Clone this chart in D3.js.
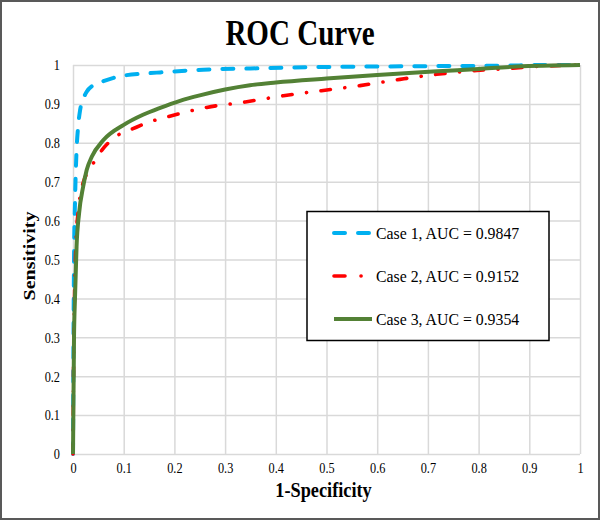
<!DOCTYPE html>
<html>
<head>
<meta charset="utf-8">
<script src="https://cdn.jsdelivr.net/npm/d3@7"></script>
<style>
  html, body { margin: 0; padding: 0; background: #fff; }
  svg { display: block; }
  text { font-family: "Liberation Serif", "Times New Roman", serif; fill: #000; }
</style>
</head>
<body>
<svg id="chart" width="600" height="520"></svg>
<script>
// ---- data ----
const xTickValues = [0, 0.1, 0.2, 0.3, 0.4, 0.5, 0.6, 0.7, 0.8, 0.9, 1];
const xTickLabels = ["0", "0.1", "0.2", "0.3", "0.4", "0.5", "0.6", "0.7", "0.8", "0.9", "1"];
const yTickValues = [0, 0.1, 0.2, 0.3, 0.4, 0.5, 0.6, 0.7, 0.8, 0.9, 1];
const yTickLabels = ["0", "0.1", "0.2", "0.3", "0.4", "0.5", "0.6", "0.7", "0.8", "0.9", "1"];

const seriesNames = ["Case 1, AUC = 0.9847", "Case 2, AUC = 0.9152", "Case 3, AUC = 0.9354"];

// 1-Specificity (FPR) / Sensitivity (TPR)
const case1FPR = [0, 0.001, 0.002, 0.004, 0.007, 0.010, 0.014, 0.020, 0.027, 0.040, 0.059, 0.080, 0.106, 0.140, 0.172, 0.257, 0.350, 0.500, 0.700, 0.880, 0.900, 1.0];
const case1TPR = [0, 0.30, 0.50, 0.65, 0.78, 0.84, 0.884, 0.912, 0.931, 0.948, 0.958, 0.967, 0.974, 0.978, 0.981, 0.988, 0.991, 0.995, 0.997, 0.999, 1.0, 1.0];

const case2FPR = [0, 0.001, 0.003, 0.006, 0.010, 0.015, 0.022, 0.034, 0.057, 0.089, 0.116, 0.152, 0.187, 0.264, 0.340, 0.415, 0.490, 0.566, 0.645, 0.717, 0.796, 0.850, 0.900, 1.0];
const case2TPR = [0, 0.20, 0.40, 0.55, 0.62, 0.67, 0.705, 0.734, 0.781, 0.820, 0.835, 0.854, 0.867, 0.891, 0.905, 0.921, 0.934, 0.947, 0.963, 0.976, 0.986, 0.990, 0.995, 1.0];

const case3FPR = [0, 0.002, 0.004, 0.007, 0.012, 0.020, 0.027, 0.037, 0.060, 0.100, 0.138, 0.172, 0.211, 0.250, 0.300, 0.349, 0.400, 0.500, 0.600, 0.710, 0.800, 0.875, 1.0];
const case3TPR = [0, 0.30, 0.404, 0.533, 0.619, 0.687, 0.730, 0.764, 0.807, 0.846, 0.872, 0.890, 0.908, 0.922, 0.937, 0.948, 0.955, 0.965, 0.974, 0.983, 0.990, 0.996, 1.0];

// ---- layout ----
const svg = d3.select("#chart");
const W = 600, H = 520;
const m = { left: 73, right: 20, top: 65, bottom: 66 };
const pw = W - m.left - m.right;   // 507
const ph = H - m.top - m.bottom;   // 389

const x = d3.scaleLinear().domain([0, 1]).range([m.left, m.left + pw]);
const y = d3.scaleLinear().domain([0, 1]).range([m.top + ph, m.top]);

const styles = [
  { color: "#00B0F0", width: 4, dash: "11,13", cap: "round" },
  { color: "#FF0000", width: 3.6, dash: "9.5,14.5,0.1,14.5", cap: "round" },
  { color: "#538135", width: 4, dash: null, cap: "butt" }
];

// outer border
svg.append("rect").attr("x", 1).attr("y", 1).attr("width", W - 2).attr("height", H - 2)
  .attr("fill", "#fff").attr("stroke", "#595959").attr("stroke-width", 2);

// grid + axes
const gx = svg.append("g").attr("transform", `translate(0,${m.top + ph})`)
  .call(d3.axisBottom(x).tickValues(xTickValues).tickFormat((d, i) => xTickLabels[i])
    .tickSize(-ph).tickPadding(8.5));
const gy = svg.append("g").attr("transform", `translate(${m.left},0)`)
  .call(d3.axisLeft(y).tickValues(yTickValues).tickFormat((d, i) => yTickLabels[i])
    .tickSize(-pw).tickPadding(13));

[gx, gy].forEach(g => {
  g.select(".domain").remove();
  g.selectAll(".tick line").attr("stroke", "#D9D9D9").attr("stroke-width", 1.5);
  g.selectAll(".tick text").attr("font-size", 15).attr("font-family", "'Liberation Serif', 'Times New Roman', serif");
});
gx.selectAll(".tick text").each(function () {
  const t = d3.select(this);
  const yy = +t.attr("y");
  t.attr("y", null).attr("transform", `translate(0,${yy}) scale(0.82,1)`);
});
gy.selectAll(".tick text").each(function () {
  const t = d3.select(this);
  t.attr("x", null).attr("transform", `translate(-13,0) scale(0.82,1)`);
});

// curves
const line = d3.line().x(d => x(d[0])).y(d => y(d[1])).curve(d3.curveMonotoneX);
const series = [
  d3.zip(case1FPR, case1TPR),
  d3.zip(case2FPR, case2TPR),
  d3.zip(case3FPR, case3TPR)
];
series.forEach((s, i) => {
  svg.append("path").datum(s).attr("d", line)
    .attr("fill", "none").attr("stroke", styles[i].color)
    .attr("stroke-width", styles[i].width)
    .attr("stroke-linecap", styles[i].cap)
    .attr("stroke-linejoin", "round")
    .attr("stroke-dasharray", styles[i].dash);
});

// title
svg.append("text").attr("transform", "translate(300,45) scale(0.83,1)")
  .attr("text-anchor", "middle").attr("font-size", 35).attr("font-weight", "bold")
  .text("ROC Curve");

// axis titles
svg.append("text").attr("transform", `translate(${m.left + pw / 2 - 3},497) scale(0.85,1)`)
  .attr("text-anchor", "middle").attr("font-size", 21.5).attr("font-weight", "bold")
  .text("1-Specificity");
svg.append("text").attr("transform", `translate(35,256) rotate(-90) scale(1,0.85)`)
  .attr("text-anchor", "middle").attr("font-size", 20).attr("font-weight", "bold")
  .text("Sensitivity");

// legend
const lg = svg.append("g");
lg.append("rect").attr("x", 307).attr("y", 211.5).attr("width", 242).attr("height", 129)
  .attr("fill", "#fff").attr("stroke", "#000").attr("stroke-width", 1.5);
const legendY = d3.scalePoint().domain(seriesNames).range([233, 319]);
seriesNames.forEach((name, i) => {
  const yy = legendY(name);
  lg.append("line").attr("x1", 334).attr("x2", 372).attr("y1", yy).attr("y2", yy)
    .attr("stroke", styles[i].color).attr("stroke-width", styles[i].width)
    .attr("stroke-linecap", styles[i].cap)
    .attr("stroke-dasharray", i === 0 ? "11,13" : (i === 1 ? "11,16,0.1,20" : null));
  lg.append("text").attr("transform", `translate(376,${yy + 6}) scale(0.93,1)`)
    .attr("font-size", 17).text(name);
});
</script>
</body>
</html>
